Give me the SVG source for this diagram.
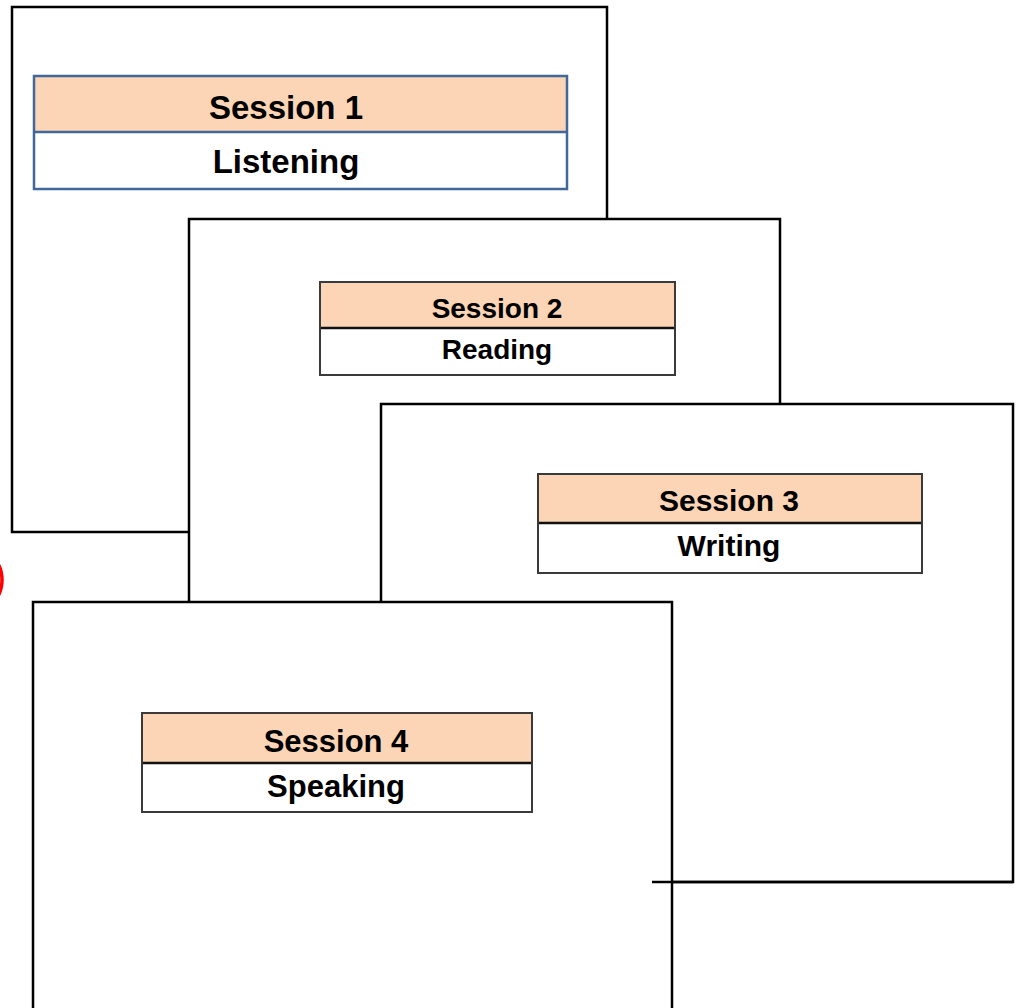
<svg xmlns="http://www.w3.org/2000/svg" width="1019" height="1008" viewBox="0 0 1019 1008">
<style>
.page{fill:#ffffff;stroke:#000000;stroke-width:2.5}
.hdr{fill:#fbd5b5}
.body{fill:#ffffff}
.b1{fill:none;stroke:#41689a;stroke-width:2.5}
.bx{fill:none;stroke:#3a3a3a;stroke-width:2}
.div{stroke:#111111;stroke-width:2.5}
.div1{stroke:#41689a;stroke-width:2.5}
text{font-family:"Liberation Sans",Arial,sans-serif;font-weight:bold;fill:#000000;text-anchor:middle}
</style>
<rect width="1019" height="1008" fill="#ffffff"/>
<circle cx="-32" cy="580" r="34" fill="none" stroke="#ff0000" stroke-width="3.5"/>
<g id="page1">
<rect class="page" x="12" y="7" width="595" height="525"/>
<g id="session1">
<rect class="hdr" x="34" y="76" width="533" height="56"/>
<rect class="body" x="34" y="132" width="533" height="57"/>
<line class="div1" x1="34" y1="132" x2="567" y2="132"/>
<rect class="b1" x="34" y="76" width="533" height="113"/>
<text x="286" y="119" font-size="33">Session 1</text>
<text x="286" y="173" font-size="33">Listening</text>
</g>
</g>
<g id="page2">
<rect class="page" x="189" y="219" width="591" height="420"/>
<g id="session2">
<rect class="hdr" x="320" y="282" width="355" height="46"/>
<rect class="body" x="320" y="328" width="355" height="47"/>
<line class="div" x1="320" y1="328" x2="675" y2="328"/>
<rect class="bx" x="320" y="282" width="355" height="93"/>
<text x="497" y="318" font-size="28">Session 2</text>
<text x="497" y="359" font-size="28">Reading</text>
</g>
</g>
<g id="page3">
<rect class="page" x="381" y="404" width="632" height="478"/>
<g id="session3">
<rect class="hdr" x="538" y="474" width="384" height="49"/>
<rect class="body" x="538" y="523" width="384" height="50"/>
<line class="div" x1="538" y1="523" x2="922" y2="523"/>
<rect class="bx" x="538" y="474" width="384" height="99"/>
<text x="729" y="511" font-size="30">Session 3</text>
<text x="729" y="556" font-size="30">Writing</text>
</g>
</g>
<g id="page4">
<rect class="page" x="33" y="602" width="639" height="500"/>
<g id="session4">
<rect class="hdr" x="142" y="713" width="390" height="50"/>
<rect class="body" x="142" y="763" width="390" height="49"/>
<line class="div" x1="142" y1="763" x2="532" y2="763" stroke-width="3"/>
<rect class="bx" x="142" y="713" width="390" height="99"/>
<text x="336" y="752" font-size="31">Session 4</text>
<text x="336" y="797" font-size="31">Speaking</text>
</g>
</g>
<g id="connectors">
<line x1="652" y1="882" x2="1013" y2="882" stroke="#000000" stroke-width="2.5"/>
</g>
</svg>
